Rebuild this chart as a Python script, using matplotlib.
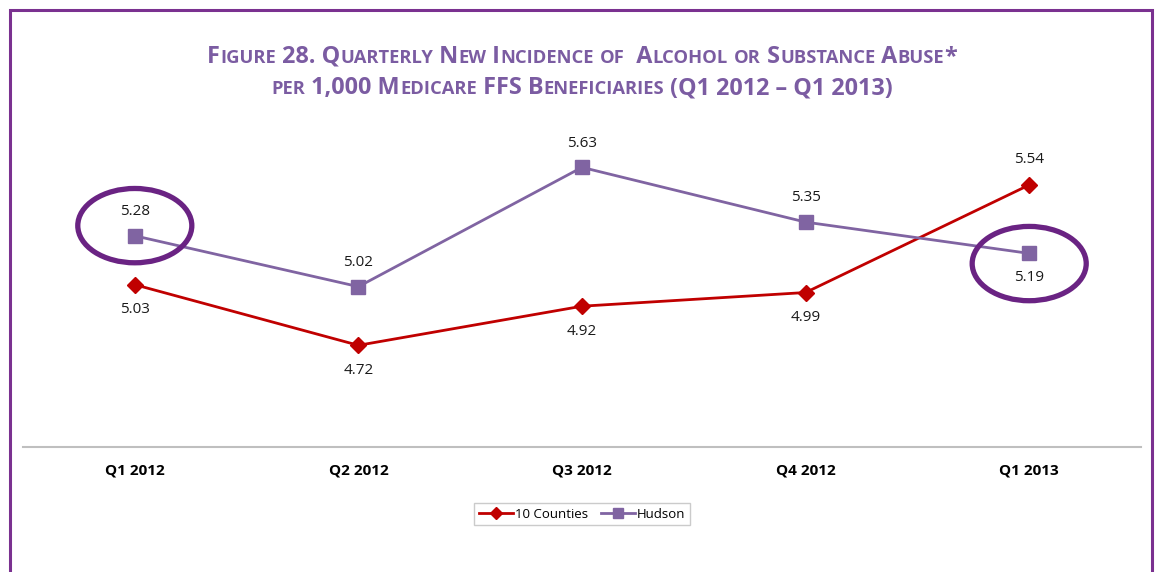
import matplotlib
matplotlib.use("Agg")
import matplotlib.pyplot as plt
import matplotlib.patches as patches

# data
quarters = ["Q1 2012", "Q2 2012", "Q3 2012", "Q4 2012", "Q1 2013"]
counties10 = [5.03, 4.72, 4.92, 4.99, 5.54]
hudson = [5.28, 5.02, 5.63, 5.35, 5.19]
# label placement: 1 = above the point, -1 = below
counties_pos = [-1, -1, -1, -1, 1]
hudson_pos = [1, 1, 1, 1, -1]
circled = [0, 4]  # Hudson points that get a ring

RED = "#C00000"
PURP = "#8064A2"
DARK = "#6A2383"
TITLE_C = "#7B5CA2"

plt.rcParams['font.family'] = ['Open Sans', 'DejaVu Sans']

W, H = 1155, 572
fig = plt.figure(figsize=(W / 100, H / 100), dpi=100)
ax = fig.add_axes([23 / W, 1 - 447 / H, (1141 - 23) / W, (447 - 95) / H])

x = list(range(len(quarters)))
ax.plot(x, counties10, color=RED, lw=2.0, marker="D", ms=8.5, label="10 Counties", zorder=3)
ax.plot(x, hudson, color=PURP, lw=2.0, marker="s", ms=10, label="Hudson", zorder=3)

for i in x:
    ax.annotate("{0:.2f}".format(counties10[i]), (i, counties10[i]),
                xytext=(0, 18 * counties_pos[i]), textcoords="offset points",
                ha="center", va="center", fontsize=11, color="#1a1a1a")
    ax.annotate("{0:.2f}".format(hudson[i]), (i, hudson[i]),
                xytext=(0, 17.5 * hudson_pos[i]), textcoords="offset points",
                ha="center", va="center", fontsize=11, color="#1a1a1a")

# rings around first and last Hudson values
for i in circled:
    cy = hudson[i] + 0.052 * hudson_pos[i]
    ell = patches.Ellipse((i, cy), 0.51, 0.38, fill=False, edgecolor=DARK, lw=3.8, zorder=4)
    ax.add_patch(ell)

ax.set_xlim(-0.5, len(quarters) - 0.5)
ax.set_ylim(4.2, 6.0)
ax.set_xticks(x)
ax.set_xticklabels(quarters, fontsize=11, fontweight="bold")
ax.tick_params(axis="x", length=0, pad=12)
ax.set_yticks([])
for s in ["top", "left", "right"]:
    ax.spines[s].set_visible(False)
ax.spines["bottom"].set_color("#BFBFBF")
ax.spines["bottom"].set_linewidth(1.5)

leg = ax.legend(loc="center", bbox_to_anchor=(582 / W, 1 - 514 / H), bbox_transform=fig.transFigure,
                ncol=2, fontsize=9.5, frameon=True, fancybox=False, handlelength=2.6,
                columnspacing=1.0, handletextpad=0.1, borderpad=0.35, markerscale=0.7)
leg.get_frame().set_edgecolor("#BFBFBF")
leg.get_frame().set_linewidth(1.0)

# outer frame
frame = patches.Rectangle((9.5 / W, -0.1), (1152 - 9.5) / W, 1.1 - 9.5 / H, transform=fig.transFigure,
                          fill=False, edgecolor="#7A3190", lw=2.2, clip_on=False)
fig.patches.append(frame)

# title in small caps, built from runs of big and small letters
def smallcaps_runs(text):
    runs = []
    for ch in text:
        small = ch.islower()
        c = ch.upper()
        if runs and runs[-1][1] == small:
            runs[-1][0] += c
        else:
            runs.append([c, small])
    return runs

title_lines = ["Figure 28. Quarterly New Incidence of  Alcohol or Substance Abuse*",
               "per 1,000 Medicare FFS Beneficiaries (Q1 2012 \u2013 Q1 2013)"]
baselines = [63, 94]
big, little = 16.8, 13.2
renderer = fig.canvas.get_renderer()
for line, yb in zip(title_lines, baselines):
    runs = smallcaps_runs(line)
    texts = []
    for s, small in runs:
        t = fig.text(0, 1 - yb / H, s, fontsize=little if small else big, fontweight="bold",
                     color=TITLE_C, va="baseline", ha="left")
        texts.append(t)
    widths = [t.get_window_extent(renderer).width for t in texts]
    total = sum(widths)
    xs = 582 - total / 2
    for t, w in zip(texts, widths):
        t.set_x(xs / W)
        xs += w

fig.savefig("out.png", dpi=100)
